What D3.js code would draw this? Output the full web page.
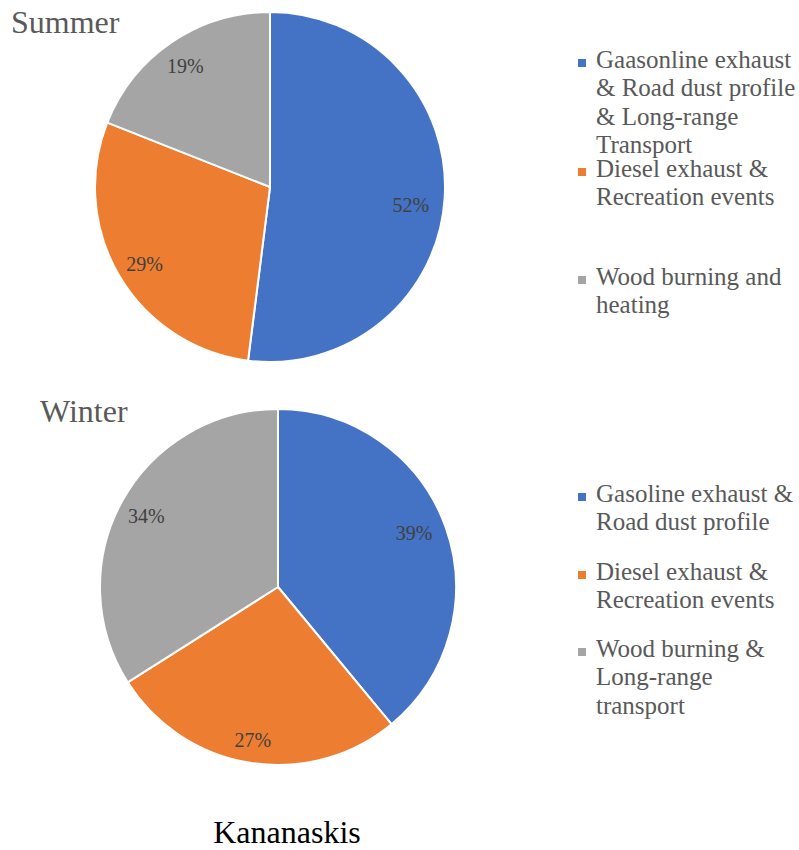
<!DOCTYPE html>
<html>
<head>
<meta charset="utf-8">
<script src="https://cdn.jsdelivr.net/npm/d3@7"></script>
<style>
  html, body { margin: 0; padding: 0; background: #fff; }
  svg { display: block; }
</style>
</head>
<body>
<svg id="chart" width="799" height="850"></svg>
<script>
// Source apportionment shares (%) for Kananaskis
const sources = ["Source 1", "Source 2", "Source 3"];
const summerValues = [52, 29, 19];
const winterValues = [39, 27, 34];
const sliceColors = ["#4472C4", "#ED7D31", "#A5A5A5"];

const summerLegend = [
  ["Gaasonline exhaust", "& Road dust profile", "& Long-range", "Transport"],
  ["Diesel exhaust &", "Recreation events"],
  ["Wood burning and", "heating"]
];
const winterLegend = [
  ["Gasoline exhaust &", "Road dust profile"],
  ["Diesel exhaust &", "Recreation events"],
  ["Wood burning &", "Long-range", "transport"]
];

const FONT = "'Liberation Serif', 'Times New Roman', Times, serif";
const svg = d3.select("#chart");
const color = d3.scaleOrdinal().domain(sources).range(sliceColors);
const pie = d3.pie().sort(null).value(d => d.value);

function drawPie(cfg) {
  const data = sources.map((s, i) => ({ key: s, value: cfg.values[i] }));
  const arcs = pie(data);
  const arc = d3.arc().innerRadius(0).outerRadius(cfg.r);
  const labelArc = d3.arc().innerRadius(cfg.r * 0.8).outerRadius(cfg.r * 0.8);
  const g = svg.append("g").attr("transform", `translate(${cfg.cx},${cfg.cy})`);

  g.selectAll("path.slice").data(arcs).join("path")
    .attr("class", "slice")
    .attr("d", arc)
    .attr("fill", d => color(d.data.key))
    .attr("stroke", "#fff")
    .attr("stroke-width", 2)
    .attr("stroke-linejoin", "round");

  // percentage labels, nudged from the slice centroid like the original layout
  g.selectAll("text.pct").data(arcs).join("text")
    .attr("class", "pct")
    .attr("transform", (d, i) => {
      const [x, y] = labelArc.centroid(d);
      const off = cfg.labelOffsets[i];
      return `translate(${x + off[0]},${y + off[1]})`;
    })
    .attr("text-anchor", "middle")
    .attr("dy", "0.35em")
    .attr("font-family", FONT)
    .attr("font-size", 20)
    .attr("fill", "#404040")
    .text(d => d.data.value + "%");

  svg.append("text")
    .attr("x", cfg.titleX).attr("y", cfg.titleY)
    .attr("font-family", FONT)
    .attr("font-size", 32)
    .attr("fill", "#595959")
    .text(cfg.title);

  // legend
  const lg = svg.append("g");
  cfg.legend.forEach((lines, i) => {
    const y0 = cfg.legendY[i];
    lg.append("rect")
      .attr("x", 578).attr("y", y0 - 9)
      .attr("width", 8).attr("height", 8)
      .attr("fill", color(sources[i]));
    const t = lg.append("text")
      .attr("x", 596).attr("y", y0)
      .attr("font-family", FONT)
      .attr("font-size", 25)
      .attr("fill", "#595959");
    lines.forEach((ln, j) => {
      t.append("tspan").attr("x", 596).attr("y", y0 + j * cfg.lineH).text(ln);
    });
  });
}

drawPie({
  title: "Summer", titleX: 11, titleY: 33,
  values: summerValues, legend: summerLegend,
  cx: 270, cy: 187, r: 175,
  labelOffsets: [[1, 9], [-5, 6], [-6, -5]],
  legendY: [68, 177, 285], lineH: 28.3
});

drawPie({
  title: "Winter", titleX: 40, titleY: 422,
  values: winterValues, legend: winterLegend,
  cx: 278, cy: 587, r: 178,
  labelOffsets: [[2, -6], [-3, 12], [-7, -2]],
  legendY: [502, 580, 657], lineH: 28.3
});

svg.append("text")
  .attr("x", 287).attr("y", 843)
  .attr("text-anchor", "middle")
  .attr("font-family", FONT)
  .attr("font-size", 32)
  .attr("fill", "#000")
  .text("Kananaskis");
</script>
</body>
</html>
